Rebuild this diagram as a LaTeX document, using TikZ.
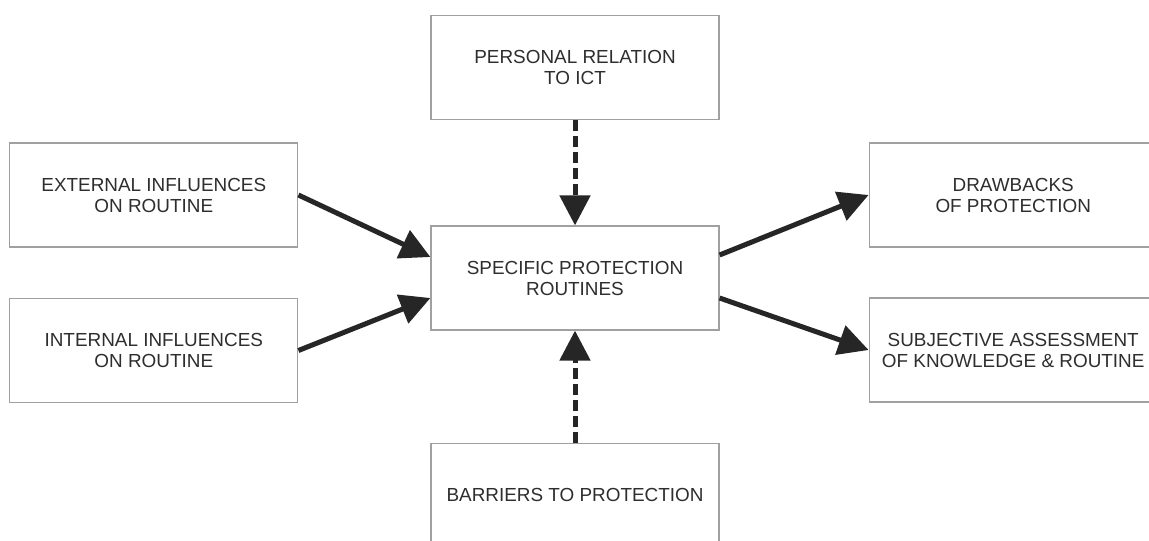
\documentclass[tikz,border=0pt]{standalone}
\usepackage{fontspec}
\setmainfont{Liberation Sans}
\usetikzlibrary{arrows.meta, positioning}
\definecolor{boxgray}{HTML}{A0A0A0}
\definecolor{txtgray}{HTML}{2E2E2E}
\definecolor{arrgray}{HTML}{262626}
\tikzset{
  box/.style={rectangle,draw=boxgray,line width=1.2pt,align=center,minimum width=288pt,minimum height=104pt,text=txtgray,font=\fontsize{18.9}{21}\selectfont},
  line/.style={-{Triangle[length=30pt,width=30pt]},line width=5pt,draw=arrgray},
  dline/.style={line,dash pattern=on 11pt off 5pt}
}

\begin{document}
\begin{tikzpicture}[x=1pt,y=-1pt]
\useasboundingbox[fill=white] (0,0) rectangle (1149,541);
\node[box] (core) at (575,278) {SPECIFIC PROTECTION\\ROUTINES};
\node[box, above=105pt of core] (ict) {PERSONAL RELATION\\TO ICT};
\node[box, below=112pt of core] (barr) {BARRIERS TO PROTECTION};
\node[box, left=132pt of core, yshift=83pt] (ext) {EXTERNAL INFLUENCES\\ON ROUTINE};
\node[box, left=132pt of core, yshift=-72.5pt] (int) {INTERNAL INFLUENCES\\ON ROUTINE};
\node[box, right=149pt of core, yshift=83pt] (drw) {DRAWBACKS\\OF PROTECTION};
\node[box, right=149pt of core, yshift=-72pt] (subj) {SUBJECTIVE ASSESSMENT\\OF KNOWLEDGE \& ROUTINE};
\draw[dline] (ict) -- (core);
\draw[dline] (barr) -- (core);
\draw[line] (ext.east) -- ([yshift=21pt]core.west);
\draw[line] (int.east) -- ([yshift=-20pt]core.west);
\draw[line] ([yshift=23pt]core.east) -- (drw.west);
\draw[line] ([yshift=-20pt]core.east) -- (subj.west);
\end{tikzpicture}
\end{document}
